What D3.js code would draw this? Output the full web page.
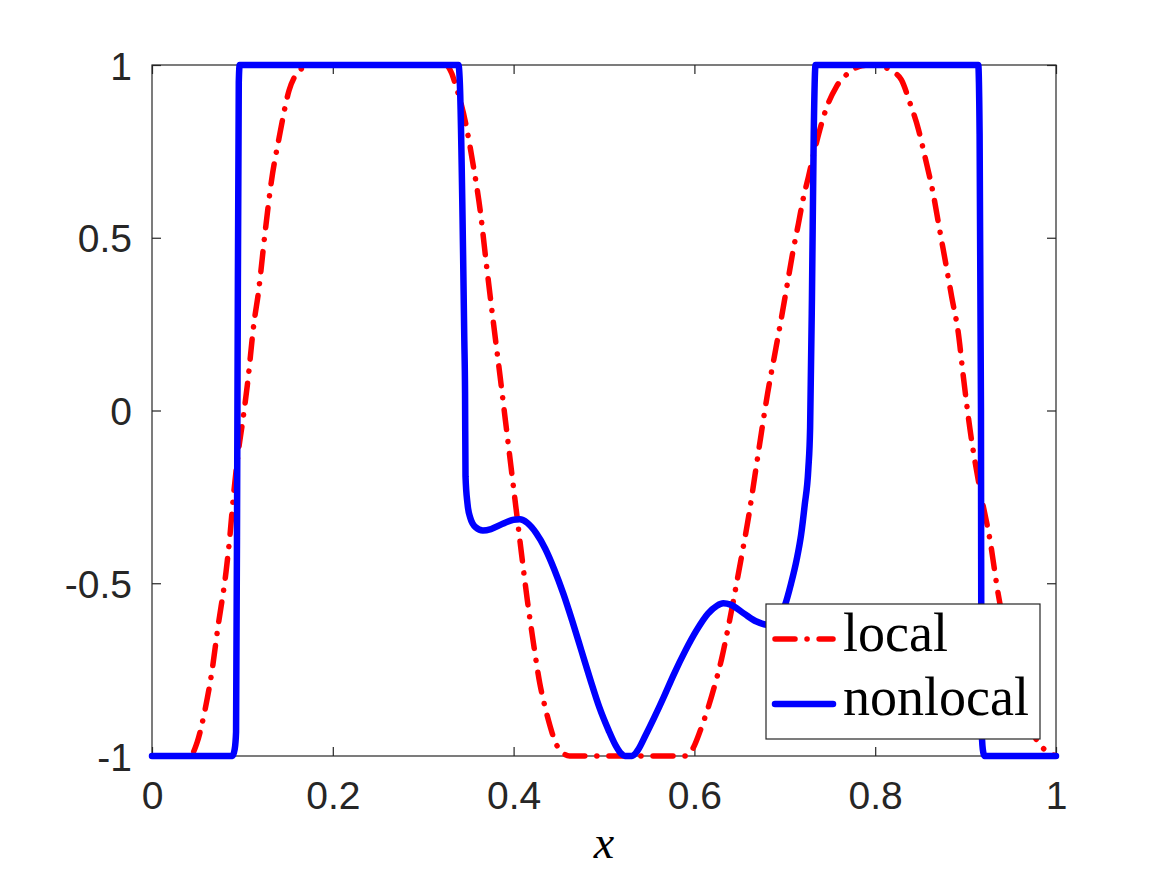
<!DOCTYPE html>
<html>
<head>
<meta charset="utf-8">
<script src="https://cdn.jsdelivr.net/npm/d3@7"></script>
<style>
  html, body { margin: 0; padding: 0; background: #fff; }
  svg { display: block; }
</style>
</head>
<body>
<svg id="chart" width="1167" height="875"></svg>
<script>
// ---- data ----
const xTicks = [0, 0.2, 0.4, 0.6, 0.8, 1];
const yTicks = [-1, -0.5, 0, 0.5, 1];
const xTickLabels = ["0", "0.2", "0.4", "0.6", "0.8", "1"];
const yTickLabels = ["-1", "-0.5", "0", "0.5", "1"];
const seriesNames = ["local", "nonlocal"];

const localX = [0, 0.042, 0.05, 0.0586, 0.066, 0.073, 0.0819, 0.0863, 0.090, 0.095, 0.101, 0.1055, 0.113, 0.1176, 0.125, 0.132, 0.1405, 0.1516, 0.164, 0.175,
  0.325, 0.3315, 0.335, 0.347, 0.355, 0.363, 0.370, 0.378, 0.385, 0.391, 0.397, 0.403, 0.409, 0.415, 0.422, 0.429, 0.434, 0.440, 0.446, 0.455, 0.462,
  0.591, 0.599, 0.606, 0.614, 0.622, 0.630, 0.638, 0.646, 0.653, 0.660, 0.667, 0.674, 0.681, 0.688, 0.695, 0.702, 0.709, 0.715, 0.7205, 0.726, 0.735, 0.746, 0.757, 0.772, 0.785, 0.794,
  0.805, 0.820, 0.829, 0.8385, 0.848, 0.855, 0.864, 0.871, 0.879, 0.8846, 0.892, 0.8975, 0.905, 0.916, 0.927, 0.936, 0.945, 0.955, 0.965, 0.9786, 0.986, 1];
const localY = [-1, -1, -0.96, -0.867, -0.76, -0.626, -0.467, -0.36, -0.25, -0.13, -0.018, 0.074, 0.257, 0.339, 0.513, 0.662, 0.788, 0.926, 0.986, 1,
  1, 0.976, 0.949, 0.831, 0.715, 0.58, 0.421, 0.247, 0.1, -0.03, -0.16, -0.29, -0.42, -0.545, -0.674, -0.79, -0.85, -0.91, -0.959, -0.992, -1,
  -1, -0.975, -0.93, -0.87, -0.8, -0.72, -0.62, -0.51, -0.41, -0.307, -0.187, -0.066, 0.05, 0.15, 0.25, 0.354, 0.46, 0.54, 0.615, 0.675, 0.775, 0.875, 0.937, 0.98, 0.998, 1,
  0.997, 0.98, 0.957, 0.89, 0.812, 0.735, 0.63, 0.527, 0.412, 0.329, 0.223, 0.098, -0.057, -0.23, -0.375, -0.53, -0.65, -0.77, -0.87, -0.954, -0.978, -1];

const nonlocalX = [0, 0.089, 0.0915, 0.093, 0.0945, 0.096, 0.097,
  0.339, 0.3405, 0.3455, 0.3463, 0.3468, 0.349, 0.352, 0.358, 0.366, 0.375, 0.388, 0.400, 0.407, 0.415, 0.425, 0.435, 0.445, 0.455, 0.465, 0.475, 0.485, 0.495, 0.505, 0.513, 0.519, 0.523,
  0.531, 0.537, 0.546, 0.555, 0.566, 0.577, 0.590, 0.602, 0.615, 0.625, 0.632, 0.640, 0.655, 0.668, 0.680, 0.690, 0.700, 0.707, 0.713, 0.718, 0.722, 0.726, 0.728, 0.730, 0.732, 0.734,
  0.914, 0.9155, 0.917, 0.9175, 0.919, 0.921, 1];
const nonlocalY = [-1, -1, -0.98, -0.93, 0, 0.95, 1,
  1, 0.95, 0.2, 0.05, -0.19, -0.27, -0.31, -0.338, -0.347, -0.343, -0.328, -0.316, -0.315, -0.325, -0.355, -0.40, -0.46, -0.53, -0.61, -0.695, -0.78, -0.86, -0.925, -0.97, -0.993, -1,
  -1, -0.985, -0.94, -0.892, -0.83, -0.765, -0.695, -0.638, -0.588, -0.565, -0.558, -0.562, -0.588, -0.610, -0.620, -0.607, -0.565, -0.50, -0.433, -0.36, -0.274, -0.17, -0.05, 0.32, 0.8, 1,
  1, 0.8, 0, -0.9, -0.98, -1, -1];

// ---- layout ----
const svg = d3.select("#chart");
const W = 1167, H = 875;
const L = 152, R = 1056, T = 65, B = 756;
const axisColor = "#262626";

svg.append("rect").attr("width", W).attr("height", H).attr("fill", "#fff");

const x = d3.scaleLinear().domain([0, 1]).range([L, R]);
const y = d3.scaleLinear().domain([-1, 1]).range([B, T]);

const tickLen = 9;
const tickFont = "'Liberation Sans', Arial, Helvetica, sans-serif";

const gBottom = svg.append("g").attr("transform", `translate(0,${B})`)
  .call(d3.axisBottom(x).tickValues(xTicks).tickSize(-tickLen).tickPadding(20)
    .tickFormat((d, i) => xTickLabels[i]));
const gTop = svg.append("g").attr("transform", `translate(0,${T})`)
  .call(d3.axisTop(x).tickValues(xTicks).tickSize(-tickLen).tickFormat(""));
const gLeft = svg.append("g").attr("transform", `translate(${L},0)`)
  .call(d3.axisLeft(y).tickValues(yTicks).tickSize(-tickLen).tickPadding(20)
    .tickFormat((d, i) => yTickLabels[i]));
const gRight = svg.append("g").attr("transform", `translate(${R},0)`)
  .call(d3.axisRight(y).tickValues(yTicks).tickSize(-tickLen).tickFormat(""));

[gBottom, gTop, gLeft, gRight].forEach(g => {
  g.select(".domain").remove();
  g.selectAll(".tick line").attr("stroke", axisColor).attr("stroke-width", 1.2);
  g.selectAll(".tick text").attr("fill", axisColor)
    .style("font-family", tickFont).style("font-size", "39px");
});
gBottom.selectAll(".tick text").attr("dy", null).attr("y", 53);
gLeft.selectAll(".tick text").attr("dy", "0.36em");

svg.append("rect").attr("x", L).attr("y", T).attr("width", R - L).attr("height", B - T)
  .attr("fill", "none").attr("stroke", axisColor).attr("stroke-width", 1.2);

const line = d3.line().x(d => x(d[0])).y(d => y(d[1])).curve(d3.curveMonotoneX);
const localData = localX.map((v, i) => [v, localY[i]]);
const nonlocalData = nonlocalX.map((v, i) => [v, nonlocalY[i]]);

const dashDot = "20 12 0.1 12";
svg.append("path").datum(localData).attr("d", line)
  .attr("fill", "none").attr("stroke", "#ff0000").attr("stroke-width", 5.5)
  .attr("stroke-linecap", "round").attr("stroke-linejoin", "round")
  .attr("stroke-dasharray", dashDot);
svg.append("path").datum(nonlocalData).attr("d", line)
  .attr("fill", "none").attr("stroke", "#0000ff").attr("stroke-width", 6.5)
  .attr("stroke-linecap", "round").attr("stroke-linejoin", "round");

svg.append("text").attr("x", (L + R) / 2).attr("y", 858).attr("text-anchor", "middle")
  .style("font-family", "'Liberation Serif', 'Times New Roman', serif")
  .style("font-style", "italic").style("font-size", "46px").attr("fill", "#000").text("x");

const lg = svg.append("g");
lg.append("rect").attr("x", 766).attr("y", 604).attr("width", 274).attr("height", 135)
  .attr("fill", "#fff").attr("stroke", axisColor).attr("stroke-width", 1.2);
const legendRows = [
  { name: seriesNames[0], color: "#ff0000", width: 5.5, dash: dashDot, ly: 639, ty: 651 },
  { name: seriesNames[1], color: "#0000ff", width: 6.5, dash: null, ly: 704, ty: 715 }
];
legendRows.forEach(r => {
  lg.append("line").attr("x1", 775).attr("x2", 833).attr("y1", r.ly).attr("y2", r.ly)
    .attr("stroke", r.color).attr("stroke-width", r.width).attr("stroke-linecap", "round")
    .attr("stroke-dasharray", r.dash);
  lg.append("text").attr("x", 843).attr("y", r.ty)
    .style("font-family", "'Liberation Serif', 'Times New Roman', serif")
    .style("font-size", "54px").attr("fill", "#000").text(r.name);
});
</script>
</body>
</html>
